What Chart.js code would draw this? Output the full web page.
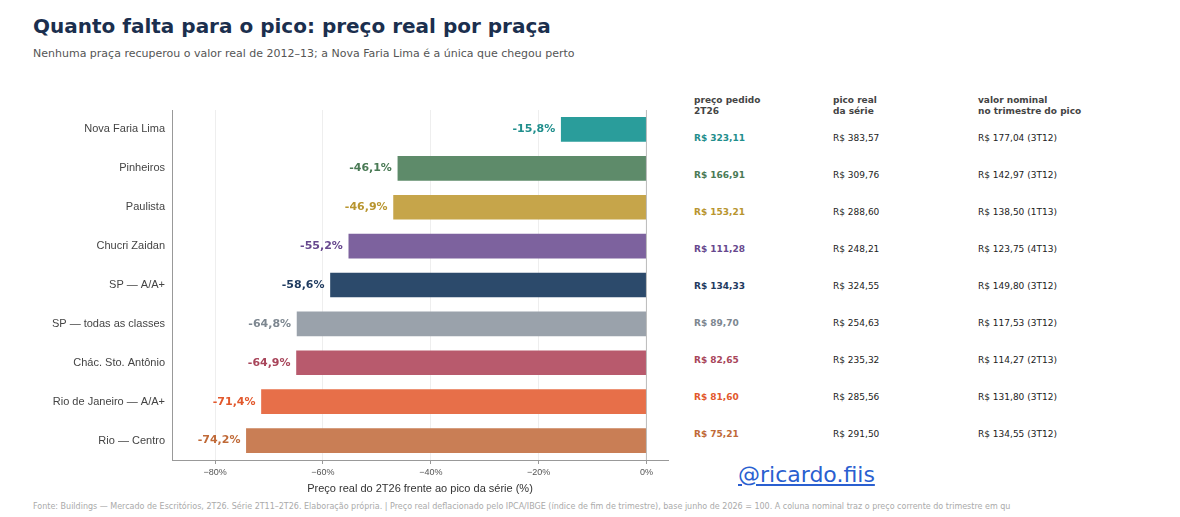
<!DOCTYPE html>
<html><head><meta charset="utf-8">
<script src="https://cdn.jsdelivr.net/npm/chart.js@4"></script>
<style>
body{margin:0;width:1180px;height:517px;background:#fff;font-family:"DejaVu Sans",sans-serif;position:relative;overflow:hidden}
#wrap{position:absolute;left:0;top:95px;width:680px;height:405px}
.t{position:absolute;font-size:9px;color:#222;white-space:nowrap}
.h{position:absolute;font-size:9px;color:#444;font-weight:bold;line-height:11px}
</style></head><body>
<div style="position:absolute;left:33px;top:14px;font-size:20px;font-weight:bold;color:#1b2f4e">Quanto falta para o pico: preço real por praça</div>
<div style="position:absolute;left:33px;top:47px;font-size:11px;color:#555">Nenhuma praça recuperou o valor real de 2012–13; a Nova Faria Lima é a única que chegou perto</div>
<div id="wrap"><canvas id="c"></canvas></div>
<div id="tbl"></div>
<div style="position:absolute;left:738px;top:462px;font-size:22px;color:#2a5fd0;text-decoration:underline">@ricardo.fiis</div>
<div style="position:absolute;left:33px;top:502px;font-size:8px;color:#aaa;white-space:nowrap">Fonte: Buildings — Mercado de Escritórios, 2T26. Série 2T11–2T26. Elaboração própria.  |  Preço real deflacionado pelo IPCA/IBGE (índice de fim de trimestre), base junho de 2026 = 100. A coluna nominal traz o preço corrente do trimestre em qu</div>
<script>
const categories = ['Nova Faria Lima','Pinheiros','Paulista','Chucri Zaidan','SP — A/A+','SP — todas as classes','Chác. Sto. Antônio','Rio de Janeiro — A/A+','Rio — Centro'];
const gapPct = [-15.8,-46.1,-46.9,-55.2,-58.6,-64.8,-64.9,-71.4,-74.2];
const barColors = ['#2a9d9b','#5e8b6a','#c6a54a','#7d629e','#2c4a6b','#9aa2ab','#b85a6d','#e76f49','#c97e55'];
const labelColors = ['#1f8e8c','#4a7a55','#b8952f','#67488e','#1e3a5f','#7d8790','#a8455a','#e2582c','#c06a38'];
const priceAsked = ['R$ 323,11','R$ 166,91','R$ 153,21','R$ 111,28','R$ 134,33','R$ 89,70','R$ 82,65','R$ 81,60','R$ 75,21'];
const realPeak = ['R$ 383,57','R$ 309,76','R$ 288,60','R$ 248,21','R$ 324,55','R$ 254,63','R$ 235,32','R$ 285,56','R$ 291,50'];
const nominalPeak = ['R$ 177,04  (3T12)','R$ 142,97  (3T12)','R$ 138,50  (1T13)','R$ 123,75  (4T13)','R$ 149,80  (3T12)','R$ 117,53  (3T12)','R$ 114,27  (2T13)','R$ 131,80  (3T12)','R$ 134,55  (3T12)'];
const xTicks = [-80,-60,-40,-20,0];

const endLabels = {
  id:'endLabels',
  afterDatasetsDraw(chart){
    const {ctx} = chart;
    const meta = chart.getDatasetMeta(0);
    ctx.save();
    ctx.font = 'bold 11px "DejaVu Sans"';
    ctx.textAlign = 'right'; ctx.textBaseline = 'middle';
    meta.data.forEach((b,i)=>{
      ctx.fillStyle = labelColors[i];
      ctx.fillText(gapPct[i].toFixed(1).replace('.',',')+'%', b.x-6, b.y);
    });
    // zero line
    const x0 = chart.scales.x.getPixelForValue(0);
    ctx.strokeStyle='#bbb'; ctx.lineWidth=1;
    ctx.beginPath(); ctx.moveTo(x0,chart.chartArea.top); ctx.lineTo(x0,chart.chartArea.bottom); ctx.stroke();
    ctx.restore();
  }
};

new Chart(document.getElementById('c'), {
  type:'bar',
  data:{labels:categories,datasets:[{data:gapPct,backgroundColor:barColors,barThickness:24}]},
  options:{
    indexAxis:'y',responsive:true,maintainAspectRatio:false,animation:false,
    layout:{padding:{top:15,right:12,left:0,bottom:0}},
    plugins:{legend:{display:false},tooltip:{enabled:false}},
    scales:{
      x:{min:-88,max:4,afterBuildTicks(s){s.ticks=xTicks.map(v=>({value:v}));},
        grid:{color:'#eeeeee',drawTicks:true,tickColor:'#999',tickLength:4},
        border:{color:'#999'},
        ticks:{color:'#555',font:{size:9},callback:v=>(v<0?'−':'')+Math.abs(v)+'%'},
        title:{display:true,text:'Preço real do 2T26 frente ao pico da série (%)',color:'#333',font:{size:11},padding:{top:2}}},
      y:{grid:{display:false,tickColor:'#999',tickLength:4},border:{color:'#999'},
        afterFit(s){s.width=172;},
        ticks:{color:'#444',font:{size:11}}}
    }
  },
  plugins:[endLabels]
});

// side table
const tbl = document.getElementById('tbl');
let html = '<div class="h" style="left:694px;top:95px">preço pedido<br>2T26</div>'+
 '<div class="h" style="left:833px;top:95px">pico real<br>da série</div>'+
 '<div class="h" style="left:978px;top:95px">valor nominal<br>no trimestre do pico</div>';
categories.forEach((c,i)=>{
  const y = 133 + i*37;
  html += `<div class="t" style="left:694px;top:${y}px;color:${labelColors[i]};font-weight:bold">${priceAsked[i]}</div>`;
  html += `<div class="t" style="left:833px;top:${y}px">${realPeak[i]}</div>`;
  html += `<div class="t" style="left:978px;top:${y}px">${nominalPeak[i]}</div>`;
});
tbl.innerHTML = html;
</script>
</body></html>
